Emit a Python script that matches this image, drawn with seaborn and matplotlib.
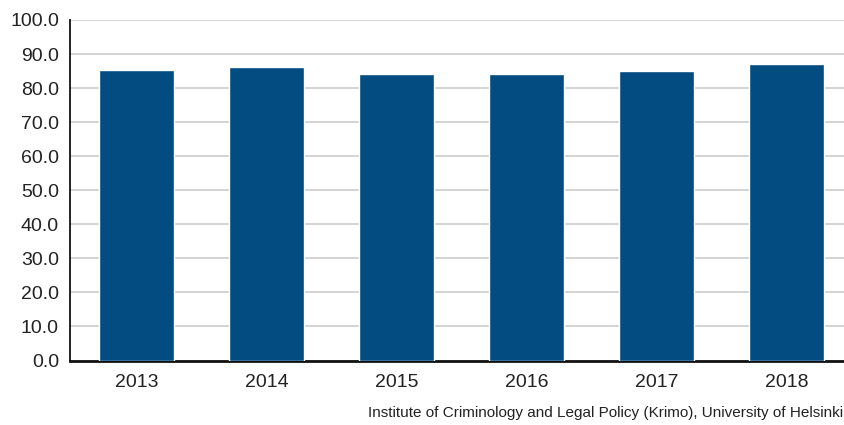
import matplotlib
matplotlib.use("Agg")
import matplotlib.pyplot as plt
import seaborn as sns
import pandas as pd

years = ["2013", "2014", "2015", "2016", "2017", "2018"]
values = [85.4, 86.2, 84.0, 84.0, 84.9, 87.1]
source = "Institute of Criminology and Legal Policy (Krimo), University of Helsinki"

sns.set_style("white")
plt.rcParams["font.family"] = ["Liberation Sans", "DejaVu Sans"]

df = pd.DataFrame({"year": years, "value": values})

fig = plt.figure(figsize=(8.45, 4.25), dpi=100)
ax = fig.add_axes([70/845, 1 - 360.5/425, (845-70)/845, (360.5-20)/425])
sns.barplot(data=df, x="year", y="value", color="#024c82", saturation=1,
            width=0.577, ax=ax, zorder=3)
ax.set_ylim(0, 100)
ax.set_xlim(-0.513, 5.45)
ax.set_yticks(range(0, 101, 10))
ax.set_yticklabels([f"{v:.1f}" for v in range(0, 101, 10)])
ax.yaxis.grid(True, color="#cccccc", linewidth=1.2, zorder=0)
ax.set_axisbelow(True)
ax.set_xlabel("")
ax.set_ylabel("")
for s in ["top", "right"]:
    ax.spines[s].set_visible(False)
ax.spines["left"].set_color("#111111")
ax.spines["left"].set_linewidth(1.3)
ax.spines["bottom"].set_color("#111111")
ax.spines["bottom"].set_linewidth(2)
ax.tick_params(axis="both", length=0, labelsize=14, colors="#222222")
ax.tick_params(axis="y", pad=8)
ax.tick_params(axis="x", pad=10)
fig.text(843/845, 1 - 413/425, source, fontsize=11, color="#222222",
         ha="right", va="center")
fig.savefig("out.png", dpi=100)
